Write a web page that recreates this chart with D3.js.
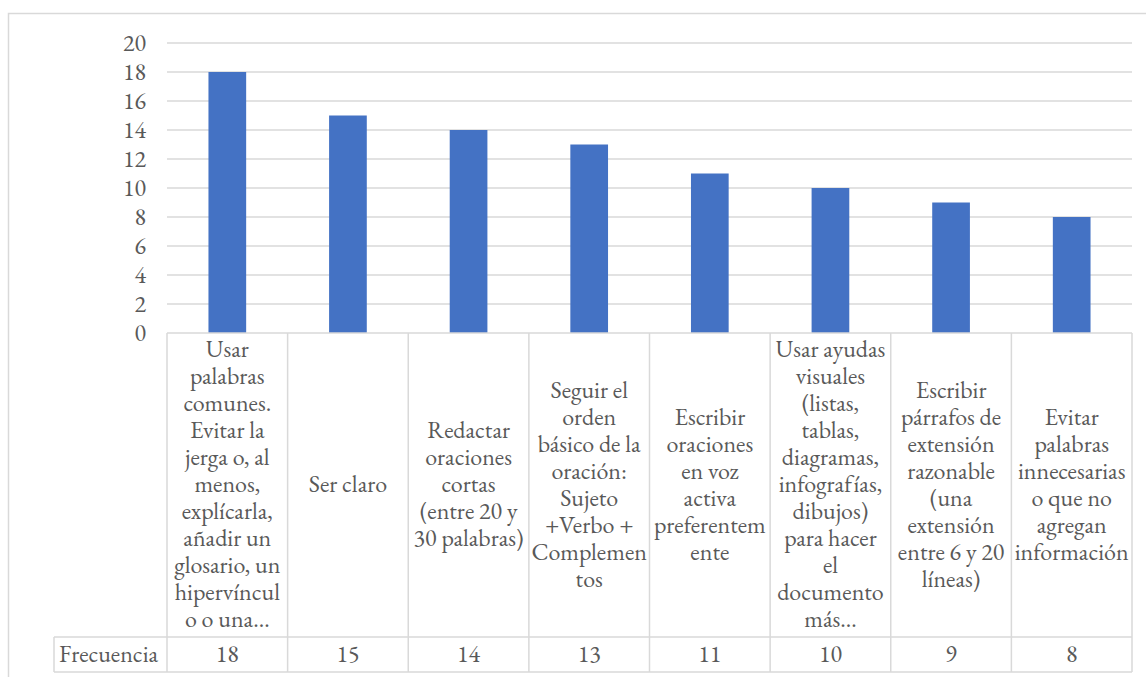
<!DOCTYPE html>
<html>
<head>
<meta charset="utf-8">
<script src="https://cdn.jsdelivr.net/npm/d3@7"></script>
<style>
  html, body { margin: 0; padding: 0; background: #ffffff; }
  svg { display: block; }
</style>
</head>
<body>
<svg id="chart" width="1146" height="677"></svg>
<script>
// Category labels, wrapped as they appear in the data-table header cells
const categories = [
  ["Usar", "palabras", "comunes.", "Evitar la", "jerga o, al", "menos,", "explícarla,", "añadir un", "glosario, un", "hipervíncul", "o o una…"],
  ["Ser claro"],
  ["Redactar", "oraciones", "cortas", "(entre 20 y", "30 palabras)"],
  ["Seguir el", "orden", "básico de la", "oración:", "Sujeto", "+Verbo +", "Complemen", "tos"],
  ["Escribir", "oraciones", "en voz", "activa", "preferentem", "ente"],
  ["Usar ayudas", "visuales", "(listas,", "tablas,", "diagramas,", "infografías,", "dibujos)", "para hacer", "el", "documento", "más…"],
  ["Escribir", "párrafos de", "extensión", "razonable", "(una", "extensión", "entre 6 y 20", "líneas)"],
  ["Evitar", "palabras", "innecesarias", "o que no", "agregan", "información"]
];
const seriesName = "Frecuencia";
const frecuencia = [18, 15, 14, 13, 11, 10, 9, 8];
const yTicks = [0, 2, 4, 6, 8, 10, 12, 14, 16, 18, 20];

const svg = d3.select("#chart");
const grid = "#d9d9d9";
const textColor = "#595959";
const fontFamily = '"EB Garamond", "Liberation Serif", serif';
const fontSize = 24;
const lineH = 27;

// Shared text styling
function styleText(sel) {
  sel.style("font-family", fontFamily)
     .style("font-size", fontSize + "px")
     .style("fill", textColor);
}

// Plot and table geometry
const plotLeft = 167, plotRight = 1132;
const plotTop = 43, plotBase = 333;
const headBottom = 637, tableBottom = 672;
const rowHeadLeft = 54;

// Outer chart border
svg.append("rect")
  .attr("x", 8.5).attr("y", 13.5)
  .attr("width", 1160).attr("height", 700)
  .attr("fill", "none").attr("stroke", grid).attr("stroke-width", 1.5);

const x = d3.scaleBand()
  .domain(d3.range(categories.length))
  .range([plotLeft, plotRight])
  .paddingInner(0).paddingOuter(0);

const y = d3.scaleLinear().domain([0, 20]).range([plotBase, plotTop]);

// Horizontal gridlines
svg.append("g")
  .selectAll("line")
  .data(yTicks.filter(d => d > 0))
  .join("line")
  .attr("x1", plotLeft).attr("x2", plotRight)
  .attr("y1", d => y(d)).attr("y2", d => y(d))
  .attr("stroke", grid).attr("stroke-width", 1.5);

// Value axis labels
const yAxis = d3.axisLeft(y).tickValues(yTicks).tickSize(0).tickPadding(0);
const ya = svg.append("g").attr("transform", "translate(146,0)").call(yAxis);
ya.select(".domain").remove();
ya.selectAll("text").call(styleText).attr("dy", "0.3em");

// Bars
const barW = x.bandwidth() * 0.3125;
svg.append("g")
  .selectAll("rect")
  .data(frecuencia)
  .join("rect")
  .attr("x", (d, i) => x(i) + (x.bandwidth() - barW) / 2)
  .attr("width", barW)
  .attr("y", d => y(d))
  .attr("height", d => y(0) - y(d))
  .attr("fill", "#4472c4");

// Data table
const tbl = svg.append("g").attr("fill", "none").attr("stroke", grid).attr("stroke-width", 1.5);
tbl.append("line").attr("x1", plotLeft).attr("x2", plotRight).attr("y1", plotBase).attr("y2", plotBase);
tbl.append("line").attr("x1", rowHeadLeft).attr("x2", plotRight).attr("y1", headBottom).attr("y2", headBottom);
tbl.append("line").attr("x1", rowHeadLeft).attr("x2", plotRight).attr("y1", tableBottom).attr("y2", tableBottom);
tbl.append("line").attr("x1", rowHeadLeft).attr("x2", rowHeadLeft).attr("y1", headBottom).attr("y2", tableBottom);
tbl.selectAll("line.col")
  .data(d3.range(categories.length + 1))
  .join("line")
  .attr("class", "col")
  .attr("x1", i => i < categories.length ? x(i) : plotRight)
  .attr("x2", i => i < categories.length ? x(i) : plotRight)
  .attr("y1", plotBase).attr("y2", tableBottom);

// Header cell labels, vertically centred in each cell
const midHead = (plotBase + headBottom) / 2;
svg.append("g")
  .selectAll("text")
  .data(categories)
  .join("text")
  .call(styleText)
  .attr("text-anchor", "middle")
  .attr("y", d => midHead - (d.length - 1) * lineH / 2)
  .each(function(lines, i) {
    d3.select(this).selectAll("tspan")
      .data(lines)
      .join("tspan")
      .attr("x", x(i) + x.bandwidth() / 2)
      .attr("dy", (l, j) => j === 0 ? "0.3em" : lineH)
      .text(l => l);
  });

// Value row
const midVal = (headBottom + tableBottom) / 2;
svg.append("text")
  .call(styleText)
  .attr("x", 59).attr("y", midVal).attr("dy", "0.3em")
  .text(seriesName);
svg.append("g")
  .selectAll("text")
  .data(frecuencia)
  .join("text")
  .call(styleText)
  .attr("text-anchor", "middle")
  .attr("x", (d, i) => x(i) + x.bandwidth() / 2)
  .attr("y", midVal).attr("dy", "0.3em")
  .text(d => d);
</script>
</body>
</html>
